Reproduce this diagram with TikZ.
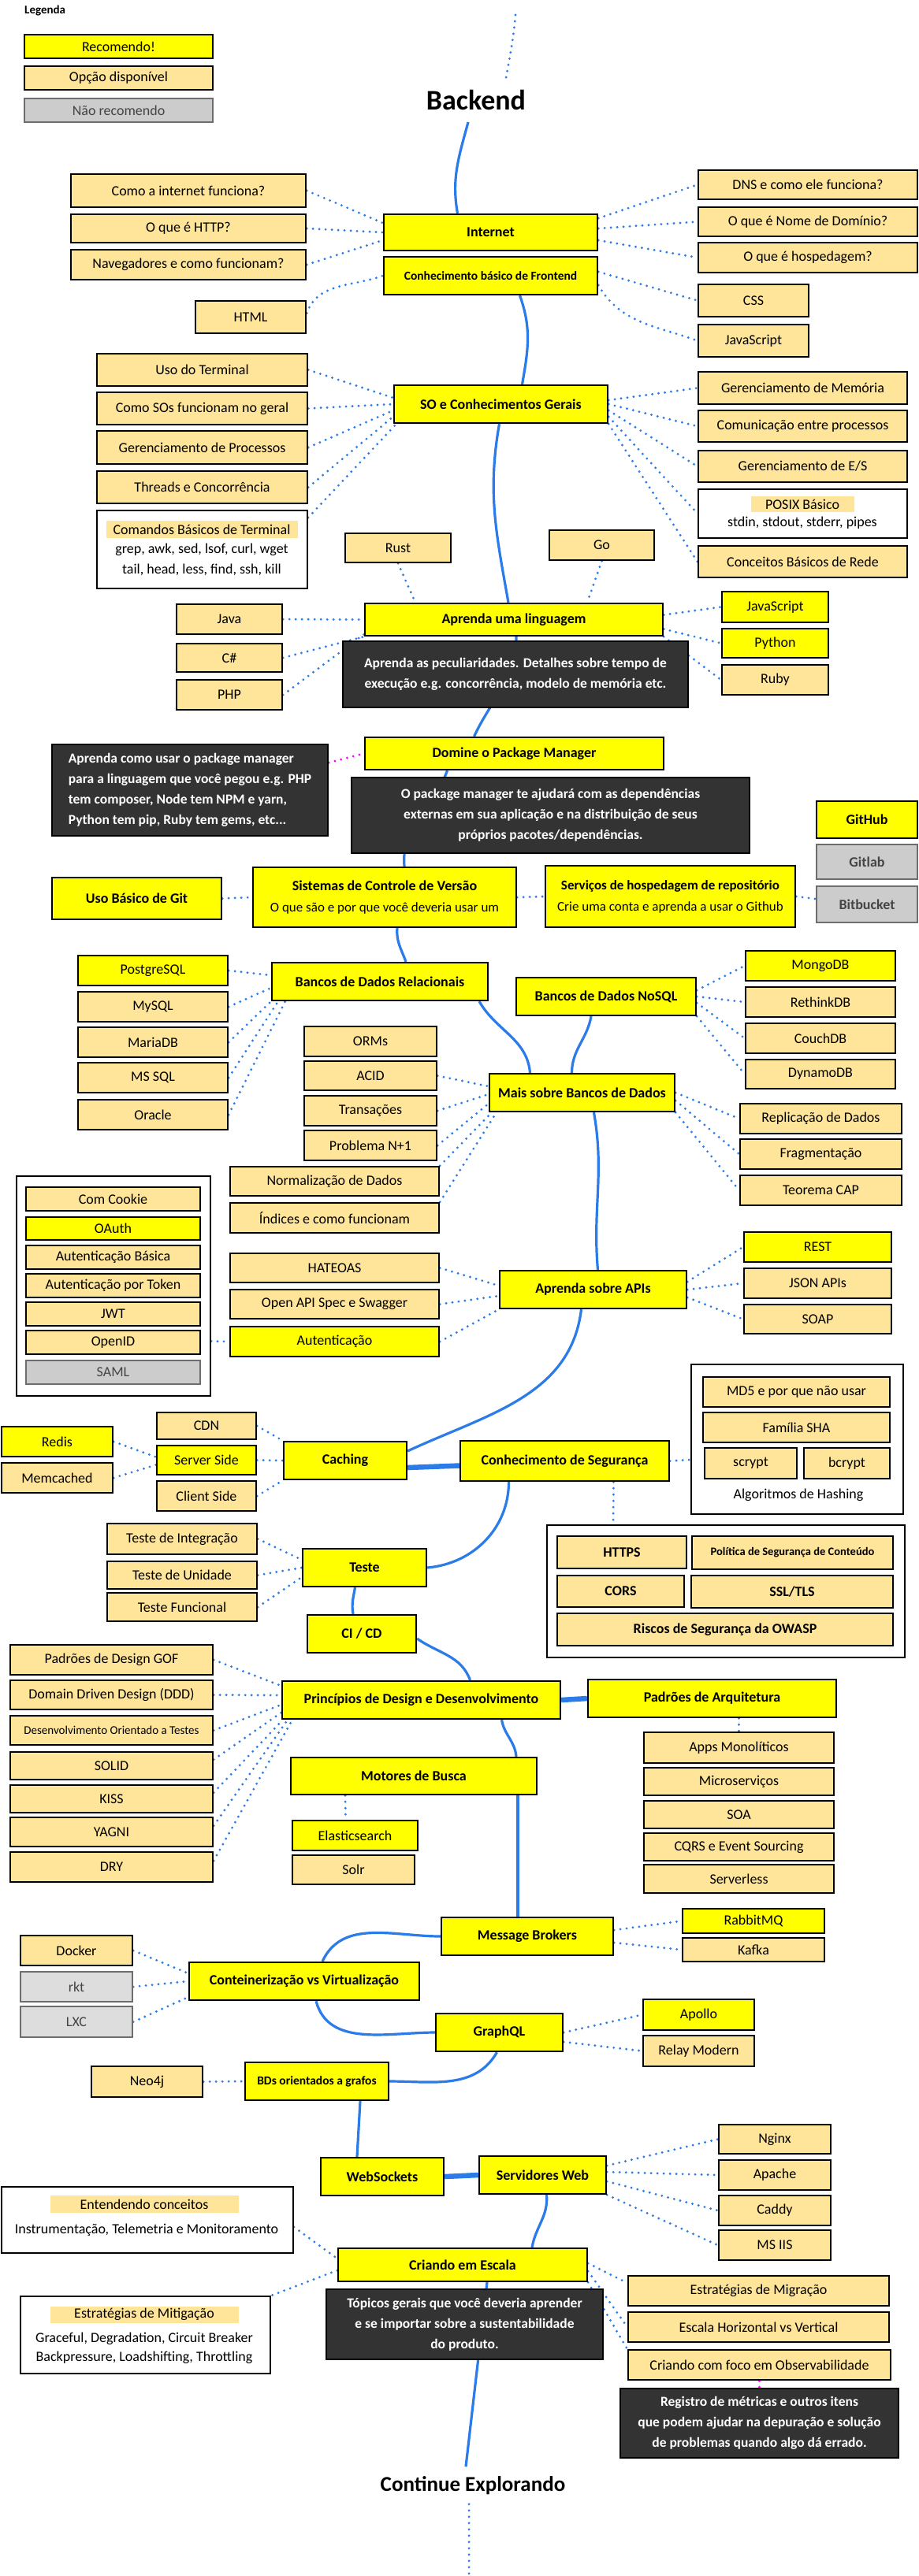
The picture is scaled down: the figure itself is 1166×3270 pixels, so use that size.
\documentclass[tikz,border=0pt]{standalone}
\usepackage{fontspec}
\setmainfont{Carlito}
\usetikzlibrary{calc}
\pgfdeclarelayer{back}\pgfdeclarelayer{bg}\pgfsetlayers{back,bg,main}
\definecolor{recY}{HTML}{FFFF00}
\definecolor{optO}{HTML}{FFE599}
\definecolor{greyC}{HTML}{CCCCCC}
\definecolor{greyL}{HTML}{DDDDDD}
\definecolor{greyB}{HTML}{6D6D6D}
\definecolor{greyT}{HTML}{444444}
\definecolor{darkF}{HTML}{333333}
\definecolor{lineB}{HTML}{2B7CE9}
\definecolor{magD}{HTML}{FF00FF}
\newcommand\fsz[2]{\fontsize{#1}{#2}\selectfont}
\newcommand\mybox[7]{%
  \pgfmathsetmacro\mbw{#5-#3}%
  \pgfmathsetmacro\mbh{#6-#4}%
  \pgfmathsetmacro\mbx{(#3+#5)/2}%
  \pgfmathsetmacro\mby{(#4+#6)/2}%
  \node[#1, minimum width=\mbw pt, minimum height=\mbh pt] (#2) at (\mbx,\mby) {#7};%
}
\tikzset{
  bx/.style={draw=black, line width=2.3pt, inner sep=2pt, align=center, font=\fsz{18}{21}},
  rec/.style={bx, fill=recY},
  opt/.style={bx, fill=optO},
  optb/.style={opt, font=\bfseries\fsz{18}{21}},
  optbs/.style={opt, font=\bfseries\fsz{14.5}{17}},
  optsm/.style={opt, font=\fsz{15}{17}},
  nrec/.style={bx, fill=greyC, draw=greyB, text=greyT},
  nrecb/.style={nrec, font=\bfseries\fsz{18}{21}},
  nrecl/.style={bx, fill=greyL, draw=greyB, text=greyT},
  main/.style={rec, font=\bfseries\fsz{18}{21}},
  mainsm/.style={rec, font=\bfseries\fsz{15.5}{18}},
  dark/.style={bx, fill=darkF, text=white, font=\bfseries\fsz{17.5}{26}},
  darkl/.style={dark, align=left, inner sep=7pt},
  contbox/.style={draw=black, line width=2pt, fill=white, inner sep=0pt},
  ttl/.style={fill=optO, inner sep=0pt, font=\fsz{18}{21}},
  plain/.style={inner sep=1pt, font=\fsz{18}{21}},
  solidc/.style={draw=lineB, line width=3.2pt},
  thickc/.style={draw=lineB, line width=6.5pt},
  dotc/.style={draw=lineB, line width=3.2pt, line cap=round, dash pattern=on 0pt off 8pt},
  magc/.style={dotc, draw=magD}
}
\begin{document}
\begin{tikzpicture}[x=1pt,y=-1pt]
\useasboundingbox (0,0) rectangle (1166,3270);
\begin{pgfonlayer}{back}
\path[fill=white] (0,0) rectangle (1166,3270);
\end{pgfonlayer}

% ---------------- legend and title
\node[font=\bfseries\fsz{15}{17}, anchor=west, inner sep=0pt] (legenda) at (31,14) {Legenda};
\mybox{rec}{lg1}{31}{44}{270}{74}{Recomendo!}
\mybox{opt}{lg2}{31}{84}{270}{114}{Opção disponível}
\mybox{nrec}{lg3}{31}{125}{270}{155}{Não recomendo}
\node[font=\bfseries\fsz{36}{40}, inner sep=15pt] (backend) at (604,127) {Backend};
\coordinate (t0) at (654,19);

% ---------------- Internet
\mybox{main}{inet}{487}{272}{758}{318}{Internet}
\mybox{mainsm}{front}{487}{326}{758}{374}{Conhecimento básico de Frontend}
\mybox{opt}{q1}{90}{221}{388}{263}{Como a internet funciona?}
\mybox{opt}{q2}{90}{272}{388}{308}{O que é HTTP?}
\mybox{opt}{q3}{90}{317}{388}{355}{Navegadores e como funcionam?}
\mybox{opt}{html}{248}{382}{388}{423}{HTML}
\mybox{opt}{dns}{886}{216}{1164}{253}{DNS e como ele funciona?}
\mybox{opt}{dom}{886}{263}{1164}{300}{O que é Nome de Domínio?}
\mybox{opt}{host}{886}{308}{1164}{346}{O que é hospedagem?}
\mybox{opt}{css}{886}{361}{1026}{402}{CSS}
\mybox{opt}{jsf}{886}{412}{1026}{453}{JavaScript}

% ---------------- SO
\mybox{main}{so}{500}{489}{771}{537}{SO e Conhecimentos Gerais}
\mybox{opt}{term}{123}{449}{390}{490}{Uso do Terminal}
\mybox{opt}{osw}{123}{498}{390}{539}{Como SOs funcionam no geral}
\mybox{opt}{proc}{123}{547}{390}{589}{Gerenciamento de Processos}
\mybox{opt}{thr}{123}{598}{390}{639}{Threads e Concorrência}
\mybox{contbox}{cmds}{123}{648}{390}{747}{}
\node[ttl, minimum width=243pt, minimum height=22pt] (cmdst) at (256,672) {Comandos Básicos de Terminal};
\node[plain] (cmdl1) at (256,698) {grep, awk, sed, lsof, curl, wget};
\node[plain] (cmdl2) at (256,723) {tail, head, less, find, ssh, kill};
\mybox{opt}{mem}{886}{472}{1151}{513}{Gerenciamento de Memória}
\mybox{opt}{ipc}{886}{521}{1151}{561}{Comunicação entre processos}
\mybox{opt}{io}{886}{572}{1151}{612}{Gerenciamento de E/S}
\mybox{contbox}{posix}{886}{621}{1151}{683}{}
\node[ttl, minimum width=131pt, minimum height=20pt] (posixt) at (1018,640) {POSIX Básico};
\node[plain] (posixl) at (1018,664) {stdin, stdout, stderr, pipes};
\mybox{opt}{net}{886}{693}{1151}{733}{Conceitos Básicos de Rede}

% ---------------- Language
\mybox{main}{lang}{463}{766}{841}{807}{Aprenda uma linguagem}
\mybox{dark}{langnote}{435}{814}{873}{898}{Aprenda as peculiaridades. Detalhes sobre tempo de\\execução e.g. concorrência, modelo de memória etc.}
\mybox{opt}{rust}{438}{677}{572}{714}{Rust}
\mybox{opt}{go}{697}{673}{830}{711}{Go}
\mybox{opt}{java}{224}{767}{358}{805}{Java}
\mybox{opt}{csharp}{224}{817}{358}{853}{C\#}
\mybox{opt}{php}{224}{863}{358}{901}{PHP}
\mybox{rec}{jsl}{916}{751}{1051}{790}{JavaScript}
\mybox{rec}{py}{916}{798}{1051}{835}{Python}
\mybox{opt}{ruby}{916}{844}{1051}{882}{Ruby}

% ---------------- Package manager
\mybox{main}{pkg}{463}{936}{842}{977}{Domine o Package Manager}
\mybox{darkl}{pkgnote1}{66}{945}{416}{1061}{Aprenda como usar o package manager\\para a linguagem que você pegou e.g. PHP\\tem composer, Node tem NPM e yarn,\\Python tem pip, Ruby tem gems, etc...}
\mybox{dark}{pkgnote2}{446}{987}{951}{1083}{O package manager te ajudará com as dependências\\externas em sua aplicação e na distribuição de seus\\próprios pacotes/dependências.}
\mybox{main}{github}{1036}{1017}{1164}{1064}{GitHub}
\mybox{nrecb}{gitlab}{1036}{1072}{1164}{1116}{Gitlab}
\mybox{nrecb}{bitbucket}{1036}{1125}{1164}{1171}{Bitbucket}

% ---------------- VCS
\mybox{main}{git}{66}{1114}{281}{1167}{Uso Básico de Git}
\mybox{main}{vcs}{321}{1101}{655}{1177}{Sistemas de Controle de Versão\\[6pt]{\mdseries\fsz{17}{19}O que são e por que você deveria usar um}}
\mybox{main}{repo}{692}{1099}{1009}{1177}{{\fsz{17}{20}Serviços de hospedagem de repositório}\\[6pt]{\mdseries\fsz{17}{19}Crie uma conta e aprenda a usar o Github}}

% ---------------- Databases
\mybox{main}{rdb}{345}{1222}{619}{1270}{Bancos de Dados Relacionais}
\mybox{main}{nosql}{655}{1241}{883}{1289}{Bancos de Dados NoSQL}
\mybox{main}{moredb}{621}{1363}{856}{1411}{Mais sobre Bancos de Dados}
\mybox{rec}{pg}{99}{1213}{289}{1251}{PostgreSQL}
\mybox{opt}{mysql}{99}{1259}{289}{1297}{MySQL}
\mybox{opt}{maria}{99}{1304}{289}{1342}{MariaDB}
\mybox{opt}{mssql}{99}{1349}{289}{1387}{MS SQL}
\mybox{opt}{oracle}{99}{1396}{289}{1434}{Oracle}
\mybox{rec}{mongo}{946}{1207}{1136}{1245}{MongoDB}
\mybox{opt}{rethink}{946}{1253}{1136}{1291}{RethinkDB}
\mybox{opt}{couch}{946}{1299}{1136}{1337}{CouchDB}
\mybox{opt}{dynamo}{946}{1345}{1136}{1382}{DynamoDB}
\mybox{opt}{orms}{386}{1303}{554}{1341}{ORMs}
\mybox{opt}{acid}{386}{1347}{554}{1384}{ACID}
\mybox{opt}{trans}{386}{1391}{554}{1429}{Transações}
\mybox{opt}{nplus}{386}{1435}{554}{1473}{Problema N+1}
\mybox{opt}{norm}{292}{1481}{557}{1518}{Normalização de Dados}
\mybox{opt}{idx}{292}{1527}{557}{1565}{Índices e como funcionam}
\mybox{opt}{repl}{939}{1401}{1144}{1439}{Replicação de Dados}
\mybox{opt}{frag}{939}{1446}{1144}{1484}{Fragmentação}
\mybox{opt}{cap}{939}{1492}{1144}{1530}{Teorema CAP}

% ---------------- APIs
\mybox{main}{apis}{634}{1613}{871}{1661}{Aprenda sobre APIs}
\mybox{contbox}{authbox}{21}{1493}{267}{1772}{}
\mybox{opt}{cookie}{33}{1507}{254}{1537}{Com Cookie}
\mybox{rec}{oauth}{33}{1545}{254}{1574}{OAuth}
\mybox{opt}{basic}{33}{1581}{254}{1611}{Autenticação Básica}
\mybox{opt}{token}{33}{1617}{254}{1647}{Autenticação por Token}
\mybox{opt}{jwt}{33}{1653}{254}{1683}{JWT}
\mybox{opt}{openid}{33}{1689}{254}{1719}{OpenID}
\mybox{nrec}{saml}{33}{1727}{254}{1757}{SAML}
\mybox{opt}{hateoas}{292}{1591}{557}{1628}{HATEOAS}
\mybox{opt}{openapi}{292}{1637}{557}{1674}{Open API Spec e Swagger}
\mybox{rec}{auth}{292}{1684}{557}{1722}{Autenticação}
\mybox{rec}{rest}{944}{1564}{1131}{1602}{REST}
\mybox{opt}{json}{944}{1610}{1131}{1648}{JSON APIs}
\mybox{opt}{soap}{944}{1656}{1131}{1693}{SOAP}

% ---------------- Caching / Security
\mybox{main}{caching}{360}{1830}{516}{1878}{Caching}
\mybox{main}{sec}{584}{1829}{849}{1880}{Conhecimento de Segurança}
\mybox{opt}{cdn}{199}{1793}{325}{1827}{CDN}
\mybox{rec}{redis}{2}{1811}{143}{1849}{Redis}
\mybox{rec}{server}{199}{1835}{325}{1872}{Server Side}
\mybox{opt}{memc}{2}{1857}{143}{1895}{Memcached}
\mybox{opt}{client}{199}{1880}{325}{1918}{Client Side}
\mybox{contbox}{hashbox}{877}{1732}{1146}{1922}{}
\mybox{opt}{md5}{892}{1748}{1129}{1786}{MD5 e por que não usar}
\mybox{opt}{sha}{892}{1793}{1129}{1831}{Família SHA}
\mybox{opt}{scrypt}{894}{1838}{1011}{1877}{scrypt}
\mybox{opt}{bcrypt}{1020}{1838}{1129}{1877}{bcrypt}
\node[plain] (hashlbl) at (1013,1898) {Algoritmos de Hashing};
\mybox{contbox}{secbox}{694}{1936}{1148}{2104}{}
\mybox{optb}{https}{707}{1950}{871}{1991}{HTTPS}
\mybox{optbs}{csp}{878}{1950}{1133}{1992}{Política de Segurança de Conteúdo}
\mybox{optb}{cors}{707}{2000}{868}{2040}{CORS}
\mybox{optb}{ssl}{877}{2000}{1133}{2041}{SSL/TLS}
\mybox{optb}{owasp}{707}{2048}{1133}{2089}{Riscos de Segurança da OWASP}

% ---------------- Testing / design
\mybox{main}{teste}{384}{1966}{541}{2014}{Teste}
\mybox{opt}{integ}{136}{1934}{326}{1973}{Teste de Integração}
\mybox{opt}{unit}{136}{1982}{326}{2017}{Teste de Unidade}
\mybox{opt}{func}{136}{2022}{326}{2058}{Teste Funcional}
\mybox{main}{cicd}{390}{2050}{528}{2098}{CI / CD}
\mybox{main}{princ}{358}{2134}{711}{2182}{Princípios de Design e Desenvolvimento}
\mybox{main}{arch}{746}{2132}{1061}{2180}{Padrões de Arquitetura}
\mybox{opt}{gof}{13}{2088}{270}{2126}{Padrões de Design GOF}
\mybox{opt}{ddd}{13}{2133}{270}{2170}{Domain Driven Design (DDD)}
\mybox{optsm}{tdd}{13}{2178}{270}{2215}{Desenvolvimento Orientado a Testes}
\mybox{opt}{solid}{13}{2224}{270}{2259}{SOLID}
\mybox{opt}{kiss}{13}{2266}{270}{2301}{KISS}
\mybox{opt}{yagni}{13}{2307}{270}{2344}{YAGNI}
\mybox{opt}{dry}{13}{2351}{270}{2389}{DRY}
\mybox{opt}{mono}{817}{2199}{1058}{2238}{Apps Monolíticos}
\mybox{opt}{micro}{817}{2244}{1058}{2279}{Microserviços}
\mybox{opt}{soa}{817}{2286}{1058}{2321}{SOA}
\mybox{opt}{cqrs}{817}{2327}{1058}{2362}{CQRS e Event Sourcing}
\mybox{opt}{serverless}{817}{2367}{1058}{2403}{Serverless}
\mybox{main}{search}{369}{2231}{681}{2278}{Motores de Busca}
\mybox{rec}{es}{371}{2311}{530}{2349}{Elasticsearch}
\mybox{opt}{solr}{371}{2355}{526}{2392}{Solr}

% ---------------- MQ / containers / graph
\mybox{main}{mq}{560}{2434}{778}{2482}{Message Brokers}
\mybox{rec}{rabbit}{866}{2423}{1046}{2454}{RabbitMQ}
\mybox{opt}{kafka}{866}{2460}{1046}{2490}{Kafka}
\mybox{main}{cont}{240}{2491}{532}{2539}{Conteinerização vs Virtualização}
\mybox{opt}{docker}{26}{2457}{168}{2495}{Docker}
\mybox{nrecl}{rkt}{26}{2503}{168}{2541}{rkt}
\mybox{nrecl}{lxc}{26}{2547}{168}{2586}{LXC}
\mybox{main}{gql}{553}{2556}{714}{2604}{GraphQL}
\mybox{rec}{apollo}{816}{2538}{957}{2577}{Apollo}
\mybox{opt}{relay}{816}{2584}{957}{2623}{Relay Modern}
\mybox{mainsm}{graphdb}{311}{2618}{493}{2666}{BDs orientados a grafos}
\mybox{opt}{neo}{116}{2623}{257}{2662}{Neo4j}

% ---------------- Web / scale
\mybox{main}{ws}{407}{2739}{563}{2787}{WebSockets}
\mybox{main}{websrv}{608}{2737}{769}{2785}{Servidores Web}
\mybox{opt}{nginx}{912}{2697}{1054}{2734}{Nginx}
\mybox{opt}{apache}{912}{2742}{1054}{2780}{Apache}
\mybox{opt}{caddy}{912}{2787}{1054}{2825}{Caddy}
\mybox{opt}{msiis}{912}{2831}{1054}{2869}{MS IIS}
\mybox{main}{scale}{429}{2854}{745}{2896}{Criando em Escala}
\mybox{dark}{scalenote}{414}{2906}{765}{2995}{Tópicos gerais que você deveria aprender\\e se importar sobre a sustentabilidade\\do produto.}
\mybox{contbox}{concbox}{2}{2776}{372}{2860}{}
\node[ttl, minimum width=239pt, minimum height=22pt] (conct) at (183,2798) {Entendendo conceitos};
\node[plain] (concl) at (186,2831) {Instrumentação, Telemetria e Monitoramento};
\mybox{contbox}{mitbox}{26}{2915}{343}{3013}{}
\node[ttl, minimum width=239pt, minimum height=21pt] (mitt) at (183,2938) {Estratégias de Mitigação};
\node[plain] (mitl1) at (183,2969) {Graceful, Degradation, Circuit Breaker};
\node[plain] (mitl2) at (183,2993) {Backpressure, Loadshifting, Throttling};
\mybox{opt}{migr}{797}{2889}{1128}{2927}{Estratégias de Migração}
\mybox{opt}{horiz}{797}{2935}{1128}{2973}{Escala Horizontal vs Vertical}
\mybox{opt}{obs}{797}{2983}{1130}{3021}{Criando com foco em Observabilidade}
\mybox{dark}{obsnote}{787}{3032}{1140}{3120}{Registro de métricas e outros itens\\que podem ajudar na depuração e solução\\de problemas quando algo dá errado.}
\node[font=\bfseries\fsz{27}{32}, inner sep=12pt] (cexp) at (600,3155) {Continue Explorando};
\coordinate (b0) at (595,3270);

% ================= connectors
\begin{pgfonlayer}{bg}
% solid spine
\draw[dotc] (t0) to[out=-95,in=80] ([xshift=38]backend.north);
\draw[solidc] ([xshift=-10]backend.south) to[out=-105,in=100] ([xshift=-42]inet.north);
\draw[solidc] ([xshift=37]front.south) to[out=-70,in=80] ([xshift=27]so.north);
\draw[solidc] ([xshift=-2]so.south) to[out=-100,in=100] ([xshift=-7]lang.north);
\draw[solidc] ([xshift=3]lang.south) to[out=-90,in=65] ([xshift=-51]pkg.north);
\draw[solidc] ([xshift=-85]pkg.south) to[out=-110,in=95] ([xshift=25]vcs.north);
\draw[solidc] ([xshift=16]vcs.south) to[out=-95,in=110] ([xshift=33]rdb.north);
\draw[solidc] ([xshift=126]rdb.south) to[out=-60,in=95] ([xshift=-66]moredb.north);
\draw[solidc] ([xshift=-19]nosql.south) to[out=-100,in=90] ([xshift=-13]moredb.north);
\draw[solidc] ([xshift=15]moredb.south) to[out=-80,in=95] ([xshift=6]apis.north);
\draw[solidc] ([xshift=-15]apis.south) to[out=-97,in=25] ([yshift=12]caching.east);
\draw[thickc] ([yshift=-9]caching.east) -- ([yshift=-6]sec.west);
\draw[solidc] ([xshift=-71]sec.south) to[out=-90,in=5] (teste.east);
\draw[solidc] ([xshift=-12]teste.south) to[out=-100,in=100] ([xshift=-11]cicd.north);
\draw[solidc] ([yshift=-6]cicd.east) to[out=-35,in=110] ([xshift=62]princ.north);
\draw[thickc] (princ.east) -- (arch.west);
\draw[solidc] ([xshift=102]princ.south) to[out=-80,in=95] ([xshift=130]search.north);
\draw[solidc] ([xshift=132]search.south) -- ([xshift=-12]mq.north);
\draw[solidc] (mq.west) to[out=180,in=65] ([xshift=23]cont.north);
\draw[solidc] ([xshift=15]cont.south) to[out=-75,in=180] (gql.west);
\draw[solidc] ([xshift=-3]gql.south) to[out=-120,in=0] (graphdb.east);
\draw[solidc] ([xshift=55]graphdb.south) -- ([xshift=-32]ws.north);
\draw[thickc] (ws.east) -- (websrv.west);
\draw[solidc] ([xshift=5]websrv.south) to[out=-85,in=80] ([xshift=88]scale.north);
\draw[solidc] ([xshift=31]scale.south) -- ([xshift=-9]cexp.north);
\draw[dotc] ([xshift=-5]cexp.south) -- (b0);

% Internet
\draw[dotc] (q1.east) -- ([yshift=12]inet.west);
\draw[dotc] (q2.east) -- (inet.west);
\draw[dotc] (q3.east) -- ([yshift=-10]inet.west);
\draw[dotc] ([yshift=5]html.east) to[out=70,in=200] (front.west);
\draw[dotc] ([yshift=18]inet.east) -- (dns.west);
\draw[dotc] ([yshift=5]inet.east) -- (dom.west);
\draw[dotc] ([yshift=-10]inet.east) -- (host.west);
\draw[dotc] ([yshift=5]front.east) -- (css.west);
\draw[dotc] ([yshift=-12]front.east) to[out=-60,in=160] (jsf.west);
% SO
\draw[dotc] (term.east) -- ([yshift=8]so.west);
\draw[dotc] (osw.east) -- (so.west);
\draw[dotc] (proc.east) -- ([yshift=-8]so.west);
\draw[dotc] (thr.east) -- ([yshift=-16]so.west);
\draw[dotc] ([yshift=-10]cmds.north east) -- ([xshift=4]so.south west);
\draw[dotc] ([yshift=5]so.east) -- (mem.west);
\draw[dotc] (so.east) -- (ipc.west);
\draw[dotc] ([yshift=-8]so.east) -- (io.west);
\draw[dotc] ([yshift=-16]so.east) -- (posix.west);
\draw[dotc] (so.south east) -- (net.west);
% language
\draw[dotc] (rust.south) -- ([xshift=-125]lang.north);
\draw[dotc] (go.south) -- ([xshift=93]lang.north);
\draw[dotc] (java.east) -- (lang.west);
\draw[dotc] (csharp.east) -- (lang.south west);
\draw[dotc] (php.east) -- ([yshift=3]lang.south west);
\draw[dotc] ([yshift=6]lang.east) -- (jsl.west);
\draw[dotc] ([yshift=-12]lang.east) -- (py.west);
\draw[dotc] (lang.south east) -- (ruby.west);
% package manager
\draw[magc] ([yshift=35]pkgnote1.east) -- (pkg.west);
% vcs
\draw[dotc] (git.east) -- (vcs.west);
\draw[dotc] (vcs.east) -- (repo.west);
\draw[dotc] (repo.east) -- ([yshift=7]bitbucket.west);
% databases
\draw[dotc] (pg.east) -- ([yshift=8]rdb.west);
\draw[dotc] (mysql.east) -- ([yshift=-8]rdb.west);
\draw[dotc] (maria.east) -- (rdb.south west);
\draw[dotc] (mssql.east) -- ([xshift=9]rdb.south west);
\draw[dotc] (oracle.east) -- ([xshift=18]rdb.south west);
\draw[dotc] ([yshift=8]nosql.east) -- (mongo.west);
\draw[dotc] (nosql.east) -- (rethink.west);
\draw[dotc] ([yshift=-8]nosql.east) -- (couch.west);
\draw[dotc] (nosql.south east) -- (dynamo.west);
\draw[dotc] (acid.east) -- ([yshift=8]moredb.west);
\draw[dotc] (trans.east) -- ([yshift=-2]moredb.west);
\draw[dotc] (nplus.east) -- ([yshift=-14]moredb.west);
\draw[dotc] (norm.north east) -- ([xshift=4]moredb.south west);
\draw[dotc] (idx.north east) -- ([xshift=10]moredb.south west);
\draw[dotc] (moredb.east) -- (repl.west);
\draw[dotc] ([yshift=-10]moredb.east) -- (frag.west);
\draw[dotc] (moredb.south east) -- (cap.west);
% APIs
\draw[dotc] (hateoas.east) -- ([yshift=5]apis.west);
\draw[dotc] (openapi.east) -- ([yshift=-8]apis.west);
\draw[dotc] (auth.east) -- (apis.south west);
\draw[dotc] ([yshift=-70]authbox.east) -- (auth.west);
\draw[dotc] ([yshift=10]apis.east) -- (rest.west);
\draw[dotc] (apis.east) -- (json.west);
\draw[dotc] ([yshift=-10]apis.east) -- (soap.west);
% caching / security
\draw[dotc] (redis.east) -- ([yshift=4]server.west);
\draw[dotc] (memc.east) -- ([yshift=-6]server.west);
\draw[dotc] (server.east) -- (caching.west);
\draw[dotc] (cdn.east) -- (caching.north west);
\draw[dotc] (client.east) -- (caching.south west);
\draw[dotc] (sec.east) -- ([yshift=-26]hashbox.west);
\draw[dotc] ([xshift=62]sec.south) -- ([xshift=-143]secbox.north);
% testing / design
\draw[dotc] (integ.east) -- ([yshift=10]teste.west);
\draw[dotc] (unit.east) -- (teste.west);
\draw[dotc] (func.east) -- ([yshift=-12]teste.west);
\draw[dotc] (gof.east) -- ([yshift=18]princ.west);
\draw[dotc] (ddd.east) -- ([yshift=6]princ.west);
\draw[dotc] (tdd.east) -- ([yshift=-6]princ.west);
\draw[dotc] ([yshift=8]solid.east) -- ([yshift=-16]princ.west);
\draw[dotc] ([yshift=8]kiss.east) -- ([xshift=2]princ.south west);
\draw[dotc] ([yshift=8]yagni.east) -- ([xshift=8]princ.south west);
\draw[dotc] ([yshift=8]dry.east) -- ([xshift=14]princ.south west);
\draw[dotc] ([xshift=34]arch.south) -- (mono.north);
\draw[dotc] ([xshift=-87]search.south) -- ([xshift=-12]es.north);
% mq / containers / graph
\draw[dotc] ([yshift=8]mq.east) -- (rabbit.west);
\draw[dotc] ([yshift=-8]mq.east) -- (kafka.west);
\draw[dotc] (docker.east) -- ([yshift=10]cont.west);
\draw[dotc] (rkt.east) -- (cont.west);
\draw[dotc] (lxc.east) -- ([yshift=5]cont.south west);
\draw[dotc] (gql.east) -- (apollo.west);
\draw[dotc] ([yshift=-12]gql.east) -- (relay.west);
\draw[dotc] (neo.east) -- (graphdb.west);
% web / scale
\draw[dotc] ([yshift=12]websrv.east) -- (nginx.west);
\draw[dotc] ([yshift=4]websrv.east) -- (apache.west);
\draw[dotc] ([yshift=-8]websrv.east) -- (caddy.west);
\draw[dotc] (websrv.south east) -- (msiis.west);
\draw[dotc] ([yshift=-9]concbox.east) -- ([yshift=8]scale.west);
\draw[dotc] ([yshift=-7]scale.west) -- (mitbox.north east);
\draw[dotc] ([yshift=2]scale.east) -- ([yshift=10]migr.west);
\draw[dotc] ([yshift=-8]scale.east) -- (horiz.west);
\draw[dotc] (scale.south east) -- (obs.north west);
\draw[magc] (obs.south) -- (obsnote.north);
\end{pgfonlayer}
\end{tikzpicture}
\end{document}
